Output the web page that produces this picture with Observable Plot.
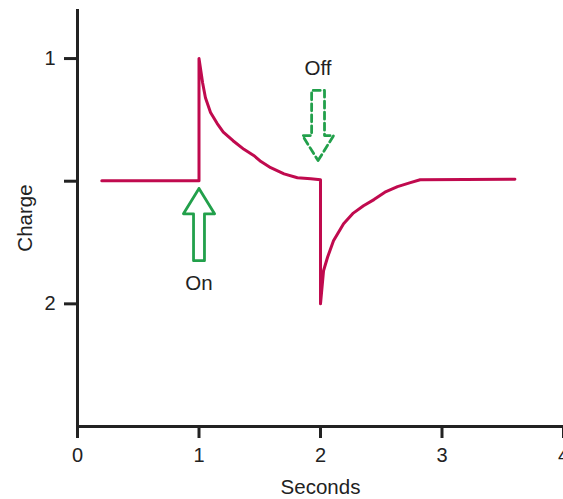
<!DOCTYPE html>
<html>
<head>
<meta charset="utf-8">
<script src="https://cdn.jsdelivr.net/npm/d3@7"></script>
<script src="https://cdn.jsdelivr.net/npm/@observablehq/plot@0.6"></script>
<style>
  html, body { margin: 0; padding: 0; background: #fff; }
  #chart svg { display: block; }
</style>
</head>
<body>
<div id="chart"></div>
<script>
// Curve data (seconds, charge)
const seconds = [0.2, 1.0, 1.0, 1.03, 1.053, 1.095, 1.15, 1.2, 1.28, 1.37, 1.45, 1.51, 1.59, 1.7, 1.81, 1.92, 2.0,
                 2.0, 2.025, 2.058, 2.107, 2.19, 2.27, 2.354, 2.44, 2.53, 2.634, 2.74, 2.82, 3.6];
const charge  = [1.498, 1.498, 1.0, 1.10, 1.16, 1.22, 1.265, 1.30, 1.335, 1.37, 1.395, 1.42, 1.445, 1.47, 1.486, 1.49, 1.494,
                 2.0, 1.865, 1.81, 1.743, 1.673, 1.63, 1.60, 1.575, 1.545, 1.522, 1.506, 1.494, 1.492];

// Axis ticks
const xTicks = [0, 1, 2, 3, 4];
const yTicks = [1, 1.5, 2];
const yTickLabels = ["1", "", "2"];

// Annotation arrows
const arrowLabels = ["On", "Off"];
const arrowX = [1.0, 1.98];
const arrowTip = [1.53, 1.416];
const arrowHeadBase = [1.633, 1.314];
const arrowTail = [1.824, 1.13];
const arrowShaftHalf = [0.045, 0.053];
const arrowHeadHalf = [0.128, 0.128];
const arrowDashed = [false, true];
const labelY = [1.918, 1.04];

const curve = seconds.map((s, i) => ({s, c: charge[i]}));

const arrowPts = [];
arrowLabels.forEach((lab, i) => {
  const x = arrowX[i], hw = arrowHeadHalf[i], sw = arrowShaftHalf[i];
  const pts = [
    [x, arrowTip[i]],
    [x + hw, arrowHeadBase[i]],
    [x + sw, arrowHeadBase[i]],
    [x + sw, arrowTail[i]],
    [x - sw, arrowTail[i]],
    [x - sw, arrowHeadBase[i]],
    [x - hw, arrowHeadBase[i]],
    [x, arrowTip[i]]
  ];
  pts.forEach(([px, py]) => arrowPts.push({label: lab, dashed: arrowDashed[i], x: px, y: py}));
});
const labels = arrowLabels.map((l, i) => ({label: l, x: arrowX[i], y: labelY[i]}));

const green = "#22a04b";
const crimson = "#c00a4e";
const font = "Liberation Sans, Arial, Helvetica, sans-serif";

const chart = Plot.plot({
  width: 563,
  height: 499,
  marginLeft: 77,
  marginRight: 0,
  marginTop: 9,
  marginBottom: 73,
  style: {fontFamily: font, fontSize: "20px", color: "#222", background: "#fff", overflow: "visible"},
  x: {domain: [0, 4]},
  y: {domain: [0.8, 2.5], reverse: true},
  marks: [
    Plot.axisX({ticks: xTicks, tickSize: 12, tickPadding: 9, strokeWidth: 3, label: null, fontSize: 20, tickFormat: d => String(d)}),
    Plot.axisY({ticks: yTicks, tickSize: 13, tickPadding: 9, strokeWidth: 3, label: null, fontSize: 20,
                tickFormat: d => yTickLabels[yTicks.indexOf(d)]}),
    Plot.ruleX([0], {stroke: "#222", strokeWidth: 3}),
    Plot.ruleY([2.5], {stroke: "#222", strokeWidth: 3}),
    Plot.text(["Charge"], {frameAnchor: "left", textAnchor: "middle", lineAnchor: "middle", dx: -52, rotate: -90, fontSize: 20.5, fill: "#222"}),
    Plot.text(["Seconds"], {frameAnchor: "bottom", lineAnchor: "middle", dy: 61, fontSize: 20.5, fill: "#222"}),
    Plot.line(curve, {x: "s", y: "c", stroke: crimson, strokeWidth: 3, strokeLinejoin: "round"}),
    Plot.line(arrowPts.filter(d => !d.dashed), {x: "x", y: "y", z: "label", stroke: green, strokeWidth: 2.8, strokeLinejoin: "round"}),
    Plot.line(arrowPts.filter(d => d.dashed), {x: "x", y: "y", z: "label", stroke: green, strokeWidth: 2.8, strokeDasharray: "7,4", strokeLinejoin: "round"}),
    Plot.text(labels, {x: "x", y: "y", text: "label", fontSize: 20.5, fill: "#222"})
  ]
});
document.getElementById("chart").append(chart);
</script>
</body>
</html>
